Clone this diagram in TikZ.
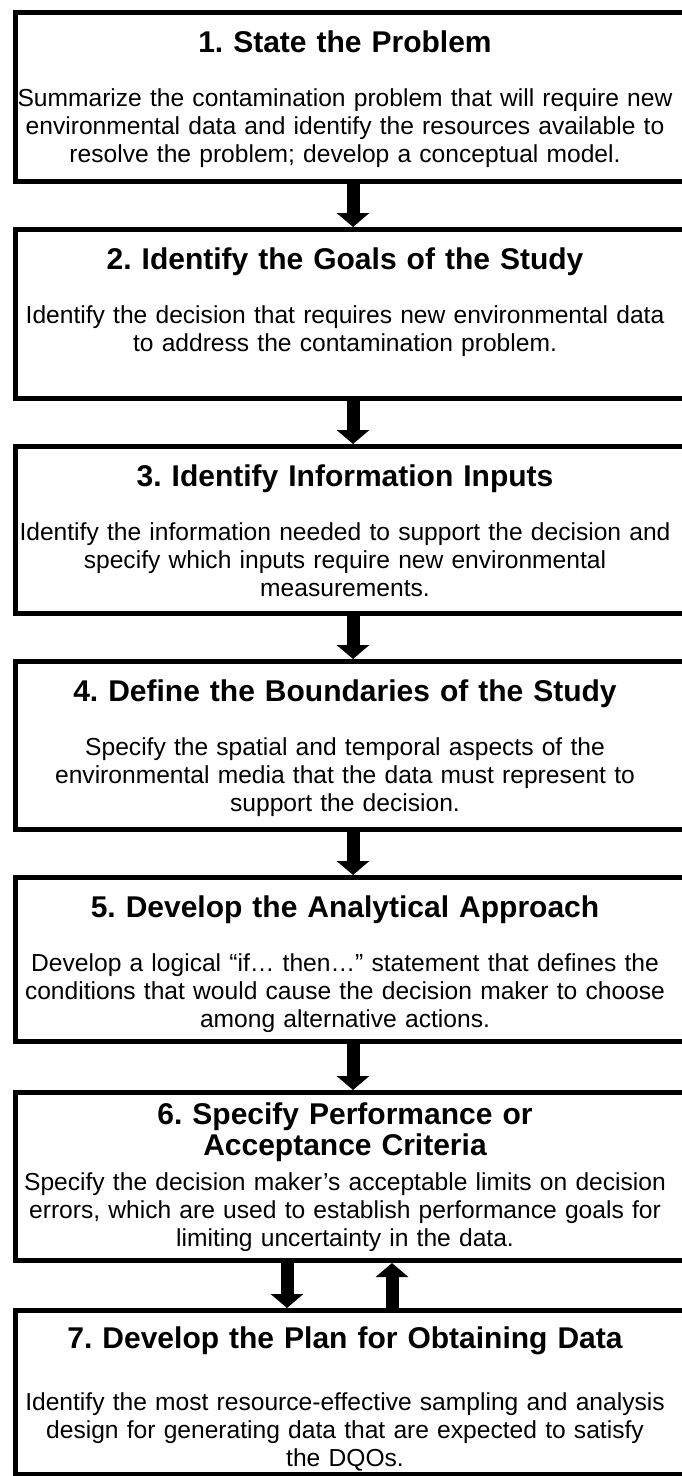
\documentclass[tikz,border=0pt]{standalone}
\usepackage{fontspec}
\setmainfont{Liberation Sans}
\usetikzlibrary{arrows.meta}
\frenchspacing
\begin{document}
\begin{tikzpicture}[x=1pt,y=1pt,
  frame/.style={draw=black, line width=5pt, minimum width=690pt, inner sep=0pt, anchor=west},
  titletext/.style={font=\fontsize{30}{31}\selectfont\bfseries, text width=670pt, align=center, inner sep=0pt, anchor=base},
  bodytext/.style={font=\fontsize{24.6}{28}\selectfont, text width=670pt, align=center, inner sep=0pt, anchor=base},
  flow/.style={line width=13pt, -{Triangle[width=32pt,length=14pt]}}]
\useasboundingbox (0,0) rectangle (682,-1476);

% step boxes (right side runs off the page)
\node[frame, minimum height=169pt] (b1) at (12.5,-97)    {};
\node[frame, minimum height=169pt] (b2) at (12.5,-314)   {};
\node[frame, minimum height=167pt] (b3) at (12.5,-530)   {};
\node[frame, minimum height=168pt] (b4) at (12.5,-745.5) {};
\node[frame, minimum height=164pt] (b5) at (12.5,-959.5) {};
\node[frame, minimum height=168pt] (b6) at (12.5,-1176.5){};
\node[frame, minimum height=164pt] (b7) at (12.5,-1392.5){};

% step titles and descriptions
\node[titletext] (t1) at (345,-52) {1. State the Problem};
\node[bodytext]  (d1) at (345,-106) {Summarize the contamination problem that will require new\\
  environmental data and identify the resources available to\\
  resolve the problem; develop a conceptual model.};

\node[titletext] (t2) at (345,-269) {2. Identify the Goals of the Study};
\node[bodytext]  (d2) at (345,-323) {Identify the decision that requires new environmental data\\
  to address the contamination problem.};

\node[titletext] (t3) at (345,-486) {3. Identify Information Inputs};
\node[bodytext]  (d3) at (345,-540) {Identify the information needed to support the decision and\\
  specify which inputs require new environmental\\
  measurements.};

\node[titletext] (t4) at (345,-701) {4. Define the Boundaries of the Study};
\node[bodytext]  (d4) at (345,-755) {Specify the spatial and temporal aspects of the\\
  environmental media that the data must represent to\\
  support the decision.};

\node[titletext] (t5) at (345,-917) {5. Develop the Analytical Approach};
\node[bodytext]  (d5) at (345,-971) {Develop a logical “if… then…” statement that defines the\\
  conditions that would cause the decision maker to choose\\
  among alternative actions.};

\node[titletext] (t6) at (345,-1124) {6. Specify Performance or\\ Acceptance Criteria};
\node[bodytext]  (d6) at (345,-1190) {Specify the decision maker’s acceptable limits on decision\\
  errors, which are used to establish performance goals for\\
  limiting uncertainty in the data.};

\node[titletext] (t7) at (345,-1348) {7. Develop the Plan for Obtaining Data};
\node[bodytext]  (d7) at (345,-1410) {Identify the most resource-effective sampling and analysis\\
  design for generating data that are expected to satisfy\\
  the DQOs.};

% connectors
\coordinate (ax) at (353,0);
\coordinate (dx) at (287,0);
\coordinate (ux) at (392,0);
\draw[flow] (b1.south -| ax) -- (b2.north -| ax);
\draw[flow] (b2.south -| ax) -- (b3.north -| ax);
\draw[flow] (b3.south -| ax) -- (b4.north -| ax);
\draw[flow] (b4.south -| ax) -- (b5.north -| ax);
\draw[flow] (b5.south -| ax) -- (b6.north -| ax);
\draw[flow] (b6.south -| dx) -- (b7.north -| dx);
\draw[flow] (b7.north -| ux) -- (b6.south -| ux);
\end{tikzpicture}
\end{document}
